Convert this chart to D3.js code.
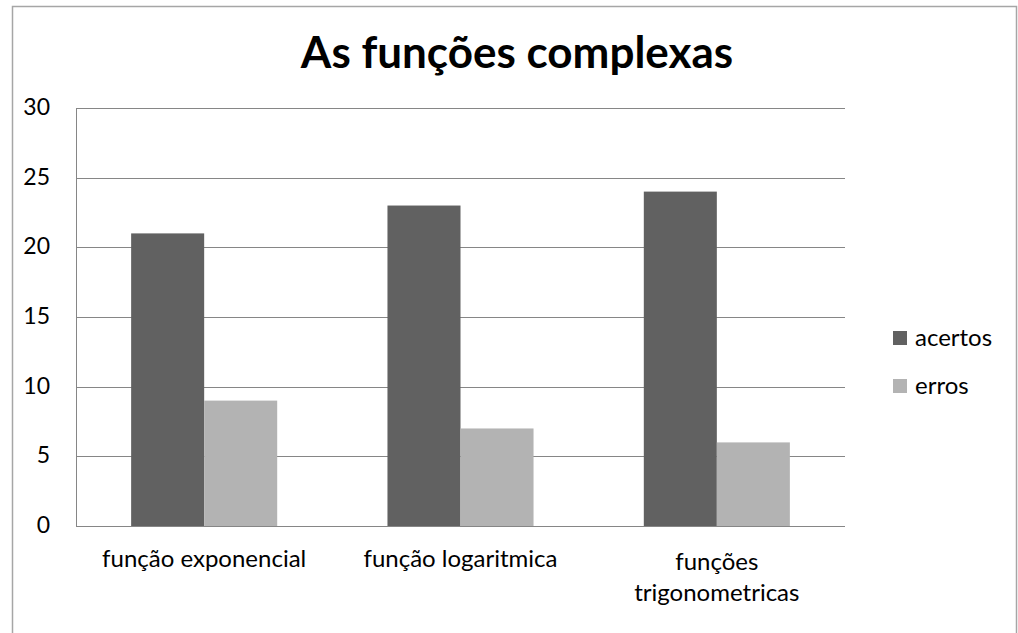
<!DOCTYPE html>
<html><head><meta charset="utf-8">
<script src="https://cdn.jsdelivr.net/npm/d3@7"></script>
<style>body{margin:0;background:#fff}svg{display:block}</style>
</head><body>
<svg id="c" width="1018" height="633"></svg>
<script>
const categories = [["função exponencial"], ["função logaritmica"], ["funções", "trigonometricas"]];
const seriesNames = ["acertos", "erros"];
const acertos = [21, 23, 24];
const erros = [9, 7, 6];
const yTicks = [0, 5, 10, 15, 20, 25, 30];
const colors = ["#616161", "#b3b3b3"];

const svg = d3.select("#c");
const font = "Lato, 'Open Sans', sans-serif";
// frame
svg.append("rect").attr("x", 12.5).attr("y", 6.5).attr("width", 1004).attr("height", 700)
  .attr("fill", "none").attr("stroke", "#a6a6a6").attr("stroke-width", 1.5);

const L = 76, R = 845, T = 108, B = 526;
const y = d3.scaleLinear().domain([0, 30]).range([B, T]);
const x0 = d3.scaleBand().domain(d3.range(categories.length)).range([L, R]).paddingInner(0).paddingOuter(0);
const x1 = d3.scaleBand().domain(seriesNames).range([0, x0.bandwidth()]).paddingOuter(0.755).paddingInner(0);

// gridlines
svg.append("g").selectAll("line").data(yTicks).join("line")
  .attr("x1", L).attr("x2", R).attr("y1", d => Math.round(y(d)) + 0.5).attr("y2", d => Math.round(y(d)) + 0.5)
  .attr("stroke", "#868686").attr("stroke-width", 1);
// y axis line
svg.append("line").attr("x1", L + 0.5).attr("x2", L + 0.5).attr("y1", T).attr("y2", B)
  .attr("stroke", "#868686");

// bars
const series = [acertos, erros];
const g = svg.append("g");
categories.forEach((c, i) => {
  seriesNames.forEach((s, j) => {
    g.append("rect")
      .attr("x", x0(i) + x1(s)).attr("width", x1.bandwidth())
      .attr("y", y(series[j][i])).attr("height", B - y(series[j][i]))
      .attr("fill", colors[j]);
  });
});
// x axis baseline on top
svg.append("line").attr("x1", L).attr("x2", R).attr("y1", B + 0.5).attr("y2", B + 0.5).attr("stroke", "#868686");

// y tick labels
svg.append("g").selectAll("text").data(yTicks).join("text")
  .attr("x", 50).attr("y", d => y(d)).attr("dy", "0.3em").attr("text-anchor", "end")
  .attr("font-family", font).attr("font-size", 23).attr("fill", "#000").text(d => d);

// x labels
categories.forEach((c, i) => {
  const t = svg.append("text").attr("text-anchor", "middle")
    .attr("font-family", font).attr("font-size", 24).attr("fill", "#000");
  const base = c.length > 1 ? 570 : 567;
  c.forEach((line, k) => {
    t.append("tspan").attr("x", x0(i) + x0.bandwidth() / 2).attr("y", base + k * 31).text(line);
  });
});

// title
svg.append("text").attr("x", 517).attr("y", 68).attr("text-anchor", "middle")
  .attr("font-family", font).attr("font-weight", "bold").attr("font-size", 44).attr("fill", "#000")
  .text("As funções complexas");

// legend
seriesNames.forEach((s, j) => {
  svg.append("rect").attr("x", 893).attr("y", 331 + j * 48).attr("width", 14).attr("height", 14).attr("fill", colors[j]);
  svg.append("text").attr("x", 915).attr("y", 346 + j * 48)
    .attr("font-family", font).attr("font-size", 24).attr("fill", "#000").text(s);
});
</script>
</body></html>
